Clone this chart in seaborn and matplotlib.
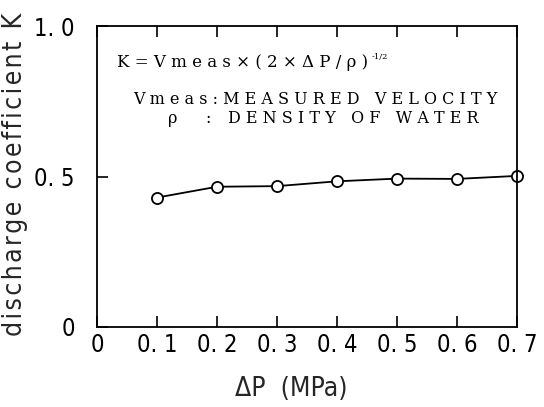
import matplotlib
matplotlib.use("Agg")
import matplotlib.pyplot as plt
import seaborn as sns
import pandas as pd

sns.set_theme(style="white")

dp = [0.1, 0.2, 0.3, 0.4, 0.5, 0.6, 0.7]
k = [0.430, 0.466, 0.468, 0.484, 0.493, 0.492, 0.502]
xticks = [0, 0.1, 0.2, 0.3, 0.4, 0.5, 0.6, 0.7]
xticklabels = ["0", "0. 1", "0. 2", "0. 3", "0. 4", "0. 5", "0. 6", "0. 7"]
yticks = [0, 0.5, 1.0]
yticklabels = ["0", "0. 5", "1. 0"]
ylabel_text = "discharge coefficient K"

plt.rcParams['font.family'] = ['DejaVu Sans']
plt.rcParams['font.stretch'] = 'condensed'

df = pd.DataFrame({"dp": dp, "k": k})

fig = plt.figure(figsize=(5.44, 4.07), dpi=100)
ax = fig.add_axes([97/544, 1 - 327/407, (517-97)/544, (327-26)/407])
sns.lineplot(data=df, x="dp", y="k", ax=ax, color="black", lw=1.3,
             marker="o", markersize=8, markerfacecolor="white",
             markeredgecolor="black", markeredgewidth=1.3, clip_on=False)
ax.set_xlim(0, 0.7)
ax.set_ylim(0, 1.0)
ax.set_xticks(xticks)
ax.set_xticklabels(xticklabels, fontsize=17)
ax.set_yticks(yticks)
ax.set_yticklabels(yticklabels, fontsize=17)
ax.tick_params(axis="x", direction="in", length=8, width=1.2, top=True, bottom=True, pad=4, colors="black")
ax.tick_params(axis="y", direction="in", length=8, width=1.2, left=True, right=False, pad=16, colors="black")
for s in ax.spines.values():
    s.set_color("black")
    s.set_linewidth(1.3)
ax.set_xlabel("ΔP  (MPa)", fontsize=19)
ax.xaxis.set_label_coords((291 - 97) / 420, -(376 - 327) / 301)
spaced = "\u200a".join(ylabel_text)
ax.set_ylabel(spaced, fontsize=19)
ax.yaxis.set_label_coords((28 - 97) / 420, 1 - (174 - 26) / 301)

serif = ["DejaVu Serif"]
kw = dict(transform=ax.transAxes, family=serif, fontsize=11.5, va="center", ha="left",
          stretch="normal", color="black")
ax.text(20/420, 1 - 36/301, "K = V m e a s × ( 2 × Δ P / ρ )", **dict(kw, fontsize=12))
ax.text((372 - 97)/420, 1 - 31/301, "-1/2", transform=ax.transAxes, family=serif,
        fontsize=6, va="center", ha="left", stretch="normal", color="black")
ax.text(36/420, 1 - 73/301, "V m e a s : M E A S U R E D   V E L O C I T Y", **kw)
ax.text((173 - 97)/420, 1 - 92/301, "ρ", **dict(kw, ha="center"))
ax.text((208 - 97)/420, 1 - 92/301, ":", **dict(kw, ha="center"))
ax.text((228 - 97)/420, 1 - 92/301, "D E N S I T Y   O F   W A T E R", **kw)

fig.savefig("out.png", dpi=100)
